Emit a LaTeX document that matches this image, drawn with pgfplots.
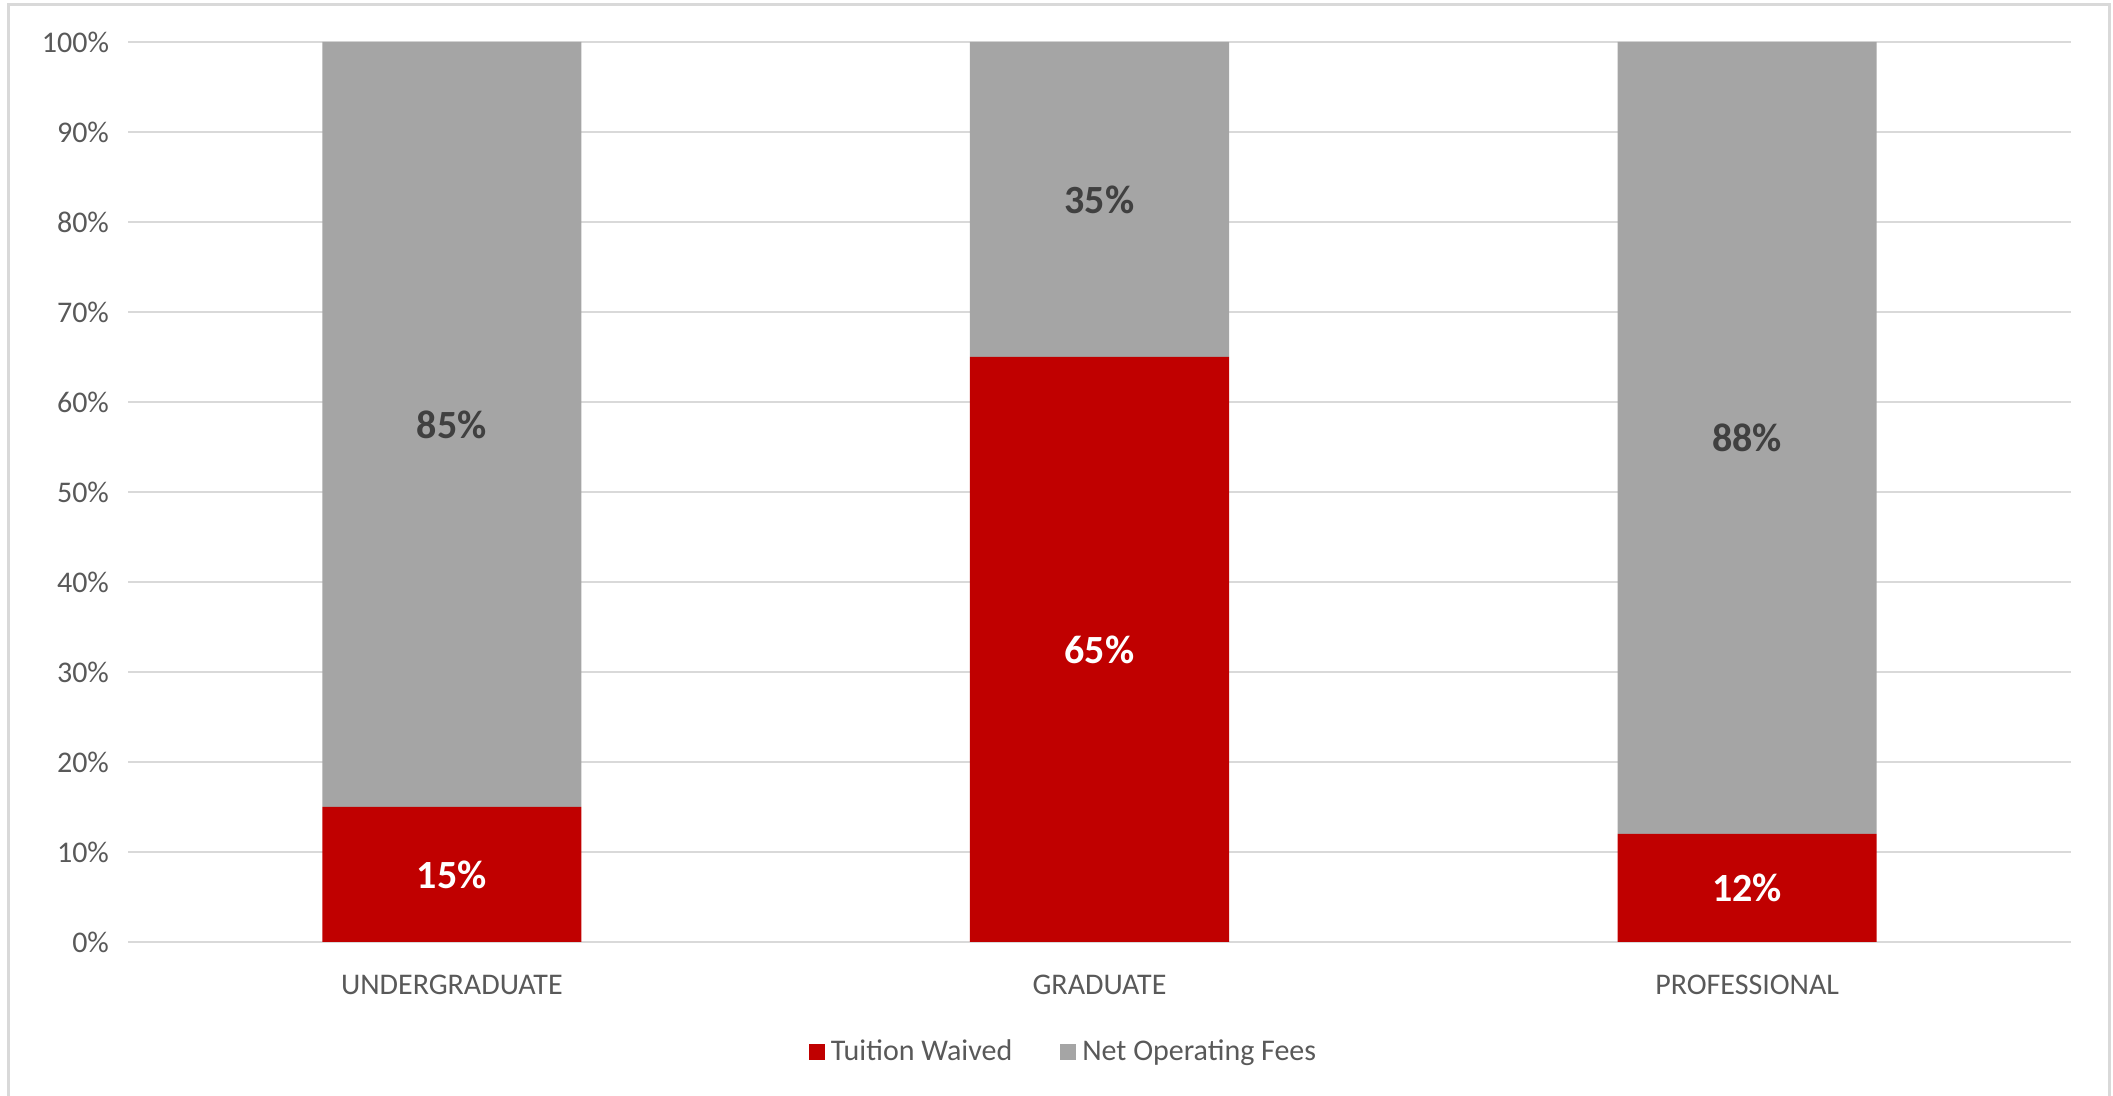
\documentclass[border=0pt]{standalone}
\usepackage{pgfplots}
\pgfplotsset{compat=1.18}
\usepackage{fontspec}
\setmainfont{Carlito}
\definecolor{redbar}{HTML}{C00000}
\definecolor{graybar}{HTML}{A5A5A5}
\definecolor{gridc}{HTML}{D9D9D9}
\definecolor{txt}{HTML}{595959}
\definecolor{dlab}{HTML}{404040}
\begin{document}
\begin{tikzpicture}
\path[use as bounding box] (-64pt,-77pt) rectangle (992.5pt,471pt);
\begin{scope}
\clip (-64pt,-77pt) rectangle (992.5pt,471pt);
\draw[gridc, line width=1.5pt] (-59.5pt,-90pt) rectangle (990.5pt,468.5pt);
\end{scope}
\begin{axis}[
  at={(0,0)}, anchor=south west,
  scale only axis,
  width=971.5pt, height=450pt,
  ybar stacked,
  bar width=0.4,
  xmin=-0.5, xmax=2.5,
  ymin=0, ymax=100,
  xtick={0,1,2},
  xticklabels={UNDERGRADUATE,GRADUATE,PROFESSIONAL},
  ytick={0,10,...,100},
  yticklabels={0\%,10\%,20\%,30\%,40\%,50\%,60\%,70\%,80\%,90\%,100\%},
  ymajorgrids,
  grid style={color=gridc, line width=1pt},
  axis line style={draw=none},
  major tick length=0pt,
  tick label style={font=\fontsize{15}{18}\selectfont, text=txt},
  yticklabel style={xshift=-6pt},
  xticklabel style={yshift=-13pt},
  legend style={draw=none, fill=none, at={(axis description cs:0.482,0)}, yshift=-55pt, anchor=center,
    legend columns=2, font=\fontsize{15}{18}\selectfont, text=txt,
    /tikz/every even column/.append style={column sep=22pt},
    /tikz/every odd column/.append style={column sep=1pt}},
  legend image code/.code={\fill[#1] (0pt,-4pt) rectangle (8pt,4pt);},
  after end axis/.code={
    \node[font=\fontsize{20}{24}\selectfont\bfseries, text=white] at (axis cs:0,7.5) {15\%};
    \node[font=\fontsize{20}{24}\selectfont\bfseries, text=white] at (axis cs:1,32.5) {65\%};
    \node[font=\fontsize{20}{24}\selectfont\bfseries, text=white] at (axis cs:2,6) {12\%};
    \node[font=\fontsize{20}{24}\selectfont\bfseries, text=dlab] at (axis cs:0,57.5) {85\%};
    \node[font=\fontsize{20}{24}\selectfont\bfseries, text=dlab] at (axis cs:1,82.5) {35\%};
    \node[font=\fontsize{20}{24}\selectfont\bfseries, text=dlab] at (axis cs:2,56) {88\%};
  },
]
\addplot[fill=redbar, draw=none] coordinates {(0,15) (1,65) (2,12)};
\addlegendentry{Tuition Waived}
\addplot[fill=graybar, draw=none] coordinates {(0,85) (1,35) (2,88)};
\addlegendentry{Net Operating Fees}
\end{axis}
\end{tikzpicture}
\end{document}
